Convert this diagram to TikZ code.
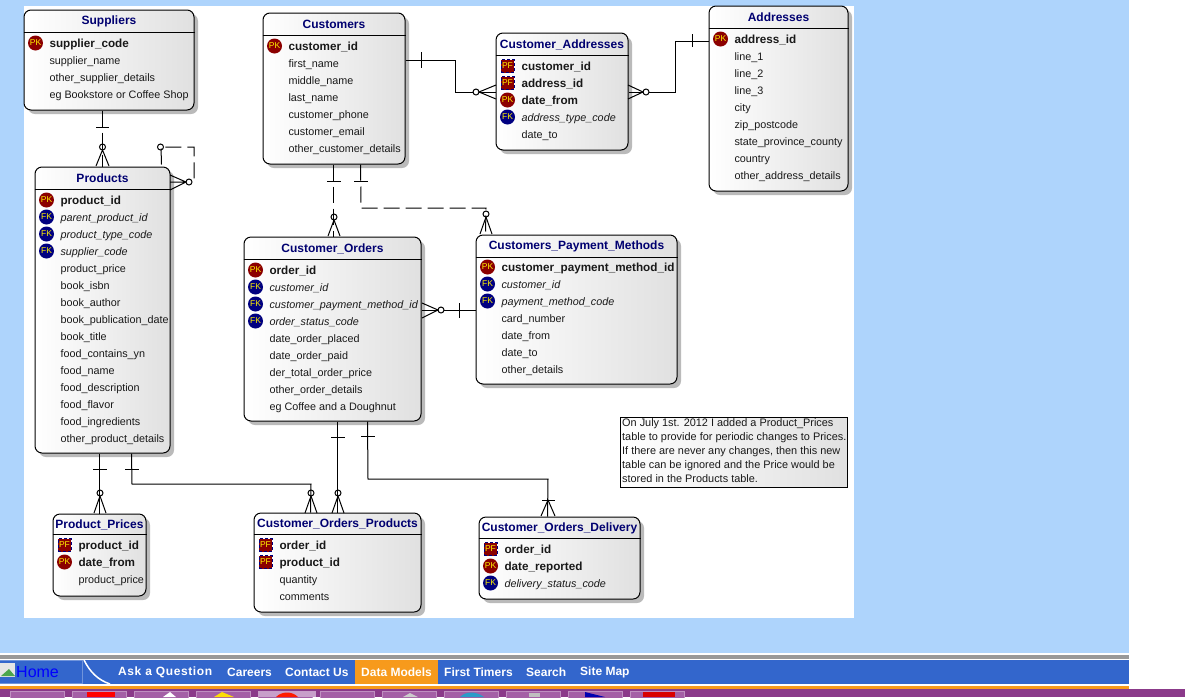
\documentclass[tikz,border=0pt]{standalone}
\usepackage{fontspec}
\setmainfont{Liberation Sans}
\usetikzlibrary{calc,shadows,shapes.geometric}
\definecolor{pagebg}{HTML}{AED4FC}
\definecolor{navyname}{HTML}{000070}
\definecolor{pkred}{HTML}{8B0000}
\definecolor{fkblue}{HTML}{000080}
\definecolor{navblue}{HTML}{3366CC}
\definecolor{navorange}{HTML}{F79A1C}
\definecolor{barpurple}{HTML}{8B3A8A}
\definecolor{tabpurple}{HTML}{A45FA6}
\tikzset{
  entity/.style={draw, line width=1pt, rounded corners=7pt, inner sep=0pt, left color=white, right color=black!12,
    drop shadow={shadow xshift=4pt, shadow yshift=-4pt, fill=black!27, opacity=1}},
  title/.style={font=\fontsize{12}{14}\selectfont\bfseries, text=navyname, inner sep=0pt},
  rowtext/.style={anchor=base west, inner sep=0pt, font=\fontsize{10.8}{13}\selectfont, text=black!90},
  rowpk/.style={rowtext, font=\fontsize{11.7}{13}\selectfont\bfseries},
  rowpf/.style={rowpk},
  rowfk/.style={rowtext, font=\fontsize{10.8}{13}\selectfont\itshape},
  rowno/.style={rowtext},
  iconfont/.style={text=yellow, inner sep=0pt, font=\fontsize{8.5}{9}\selectfont},
  iconpk/.style={iconfont, circle, fill=pkred, minimum size=15pt, node contents=PK},
  iconpf/.style={iconfont, rectangle, fill=pkred, draw=fkblue, densely dashed, minimum size=13pt, node contents=PF},
  iconfk/.style={iconfont, circle, fill=fkblue, minimum size=15pt, node contents=FK},
  iconno/.style={inner sep=0pt, node contents={}},
  rel/.style={line width=1pt},
  optrel/.style={rel, dash pattern=on 16pt off 6pt},
  navlabel/.style={text=white, font=\fontsize{12}{14}\selectfont\bfseries, inner sep=0pt, anchor=west},
  tabbox/.style={fill=tabpurple, draw=tabpurple!70!white, minimum width=54pt, minimum height=12pt, inner sep=0pt, anchor=north west}
}
% name, x1, y1, x2, y2, line under title, title, first row, rows
\newcommand{\entitybox}[9]{
  \node[entity, minimum width={(#4-#2)*1pt}, minimum height={(#5-#3)*1pt}] (#1) at ({(#2+#4)/2},{(#3+#5)/2}) {};
  \node[title] (#1-title) at ({(#2+#4)/2},{(#3+#6)/2+0.7}) {#7};
  \draw[line width=0.8pt] (#1.west |- 0,#6) -- (#1.east |- 0,#6);
  \foreach \kind/\txt [count=\i from 0] in {#9} {
    \node at (#2+11.5,#8+17*\i) [icon\kind, name=#1-icon\i];
    \node[row\kind] (#1-row\i) at (#2+25.3,#8+4+17*\i) {\txt};
  }
}
\begin{document}
\begin{tikzpicture}[x=1pt, y=-1pt]
  \useasboundingbox (0,0) rectangle (1185,697);
  % Page background
  \fill[pagebg] (0,0) rectangle (1129,653);
  \fill[white] (24,6) rectangle (854,618);

  % Tables
  \entitybox{sup}{24}{10}{194}{110}{32}{Suppliers}{43}{pk/supplier\_code, no/supplier\_name, no/other\_supplier\_details, no/eg Bookstore or Coffee Shop}
  \entitybox{cust}{263}{13}{405}{164}{35}{Customers}{46}{pk/customer\_id, no/first\_name, no/middle\_name, no/last\_name, no/customer\_phone, no/customer\_email, no/other\_customer\_details}
  \entitybox{custaddr}{496}{33}{628}{150}{55}{Customer\_Addresses}{66}{pf/customer\_id, pf/address\_id, pk/date\_from, fk/address\_type\_code, no/date\_to}
  \entitybox{addr}{709}{6}{848}{191}{28}{Addresses}{39}{pk/address\_id, no/line\_1, no/line\_2, no/line\_3, no/city, no/zip\_postcode, no/state\_province\_county, no/country, no/other\_address\_details}
  \entitybox{prod}{35}{167}{170}{453}{189}{Products}{200}{pk/product\_id, fk/parent\_product\_id, fk/product\_type\_code, fk/supplier\_code, no/product\_price, no/book\_isbn, no/book\_author, no/book\_publication\_date, no/book\_title, no/food\_contains\_yn, no/food\_name, no/food\_description, no/food\_flavor, no/food\_ingredients, no/other\_product\_details}
  \entitybox{ord}{244}{237}{421}{421}{259}{Customer\_Orders}{270}{pk/order\_id, fk/customer\_id, fk/customer\_payment\_method\_id, fk/order\_status\_code, no/date\_order\_placed, no/date\_order\_paid, no/der\_total\_order\_price, no/other\_order\_details, no/eg Coffee and a Doughnut}
  \entitybox{pay}{476}{235}{677}{384}{257}{Customers\_Payment\_Methods}{267}{pk/customer\_payment\_method\_id, fk/customer\_id, fk/payment\_method\_code, no/card\_number, no/date\_from, no/date\_to, no/other\_details}
  \entitybox{price}{53}{514}{146}{596}{534}{Product\_Prices}{545}{pf/product\_id, pk/date\_from, no/product\_price}
  \entitybox{ordprod}{254}{513}{421}{612}{534}{Customer\_Orders\_Products}{545}{pf/order\_id, pf/product\_id, no/quantity, no/comments}
  \entitybox{orddel}{479}{517}{640}{599}{538}{Customer\_Orders\_Delivery}{549}{pf/order\_id, pk/date\_reported, fk/delivery\_status\_code}

  % Note
  \node[draw, line width=1pt, left color=white, right color=black!12, inner sep=0pt, minimum width=227pt, minimum height=70pt] (note) at (733.5,452) {};
  \node[anchor=north west, inner sep=0pt, align=left, font=\fontsize{10.9}{14}\selectfont, text=black!90] (notetext) at (622,418.5) {On July 1st. 2012 I added a Product\_Prices\\table to provide for periodic changes to Prices.\\If there are never any changes, then this new\\table can be ignored and the Price would be\\stored in the Products table.};

  % Suppliers to Products
  \draw[optrel] (sup.south -| prod.north) -- (prod.north);
  \draw[rel] (96,127) -- (109,127);
  \draw[rel] (102.5,147) circle (3);
  \draw[rel] (96,166) -- (102.5,150) -- (109,166);
  % Products to itself
  \draw[optrel] ($(prod.north east)+(-9,-2)$) -- (161,147) -- (194,147) -- (194,182) -- (192,182);
  \draw[rel] (160.5,147) circle (3);
  \draw[rel] (189,182) circle (3);
  \draw[rel] (170,175) -- (186,182) -- (170,190) (170,182) -- (186,182);
  % Customers to Customer_Orders
  \draw[optrel] ($(cust.south west)+(71,0)$) -- ($(ord.north west)+(90,0)$);
  \draw[rel] (327,181) -- (341,181);
  \draw[rel] (334,217) circle (3);
  \draw[rel] (328,236) -- (334,220) -- (340,236);
  % Customers to Customers_Payment_Methods
  \draw[optrel] ($(cust.south west)+(98,0)$) -- (361,208) -- (486,208) -- ($(pay.north west)+(10,0)$);
  \draw[rel] (354,181) -- (368,181);
  \draw[rel] (486,214) circle (3);
  \draw[rel] (480,234) -- (486,217) -- (492,234);
  % Customers to Customer_Addresses
  \draw[rel] (cust.east |- 0,60) -- (455,60) -- (455,92) -- (custaddr.west |- 0,92);
  \draw[rel] (421,52) -- (421,68);
  \draw[rel, fill=white] (476,92) circle (3);
  \draw[rel] (496,85) -- (479,92) -- (496,99);
  % Addresses to Customer_Addresses
  \draw[rel] (addr.west |- 0,41) -- (675,41) -- (675,92) -- (custaddr.east |- 0,92);
  \draw[rel] (692,34) -- (692,47);
  \draw[rel, fill=white] (646,92) circle (3);
  \draw[rel] (628,85) -- (643,92) -- (628,99);
  % Customers_Payment_Methods to Customer_Orders
  \draw[rel] (pay.west |- 0,310) -- (ord.east |- 0,310);
  \draw[rel] (459,303) -- (459,318);
  \draw[rel, fill=white] (441,310) circle (3);
  \draw[rel] (422,303) -- (438,310) -- (422,318);
  % Products to Product_Prices
  \draw[rel] ($(prod.south west)+(65,0)$) -- ($(price.north west)+(47,0)$);
  \draw[rel] (93,469) -- (107,469);
  \draw[rel] (100,493) circle (3);
  \draw[rel] (94,513) -- (100,496) -- (106,513);
  % Products to Customer_Orders_Products
  \draw[rel] ($(prod.south west)+(97,0)$) -- (132,484) -- (311,484) -- ($(ordprod.north west)+(57,0)$);
  \draw[rel] (125,469) -- (139,469);
  \draw[rel] (311,493) circle (3);
  \draw[rel] (305,513) -- (311,496) -- (317,513);
  % Customer_Orders to Customer_Orders_Products
  \draw[rel] ($(ord.south west)+(94,0)$) -- ($(ordprod.north west)+(84,0)$);
  \draw[rel] (331,437) -- (345,437);
  \draw[rel] (338,493) circle (3);
  \draw[rel] (332,513) -- (338,496) -- (344,513);
  % Customer_Orders to Customer_Orders_Delivery
  \draw[rel] ($(ord.south west)+(124,0)$) -- (368,479) -- (548,479) -- ($(orddel.north west)+(69,0)$);
  \draw[rel] (361,436) -- (375,436);
  \draw[rel] (542,500) -- (555,500);
  \draw[rel] (541,516) -- (548,500) -- (555,516);

  % Nav bar
  \fill[black!40] (0,655) rectangle (1129,658.5);
  \fill[navblue] (0,660) rectangle (1129,684);
  \fill[navorange] (355,660) rectangle (438,684);
  \fill[navorange] (0,685.5) rectangle (1129,689);
  \fill[barpurple] (0,689) rectangle (1185,697);
  \draw[navblue!70!white, line width=0.6pt] (0,660.5) -- (82,660.5) -- (82,683.5) -- (0,683.5);
  \draw[white, line width=1.5pt] (84,660) .. controls (90,672) and (98,680) .. (110,684);
  % Broken image and link
  \fill[black!10] (0,663) rectangle (15,677);
  \fill[green!50!black!70] (1,676) -- (9,669) -- (15,676) -- cycle;
  \node[anchor=west, inner sep=0pt, text=blue, font=\fontsize{16}{18}\selectfont] (home) at (16,672.5) {Home};
  \node[navlabel] (ask) at (118,672.5) {\addfontfeature{LetterSpace=5}Ask a Question};
  \node[navlabel] (careers) at (227,672.5) {Careers};
  \node[navlabel] (contact) at (285,672.5) {Contact Us};
  \node[navlabel] (models) at (361,672.5) {Data Models};
  \node[navlabel] (first) at (444,672.5) {First Timers};
  \node[navlabel] (search) at (526,672.5) {Search};
  \node[navlabel] (sitemap) at (580,672.5) {Site Map};

  % Tabs along the bottom
  \foreach \tx [count=\n] in {10,72,134,196,258,320,382,444,506,568,630}
    \node[tabbox] (tab\n) at (\tx,690.5) {};
  \fill[tabpurple!60!white] (258,690.5) rectangle (316,697);
  \fill[red] (87,692) rectangle (115,697);
  \fill[white] (163,697) -- (170,692) -- (176,697);
  \fill[yellow!80!orange] (214,697) -- (222,692) -- (234,697);
  \fill[red!80!orange] (276,697) .. controls (282,691) and (292,691) .. (298,697);
  \fill[black!20] (403,697) -- (410,693) -- (418,697);
  \fill[cyan!80!black] (460,697) .. controls (466,691) and (476,691) .. (484,697);
  \fill[black!25] (529,697) rectangle (540,693);
  \fill[blue!70!black] (585,692) -- (605,697) -- (585,697) -- cycle;
  \fill[red!85!black] (643,692) rectangle (675,697);
\end{tikzpicture}
\end{document}
